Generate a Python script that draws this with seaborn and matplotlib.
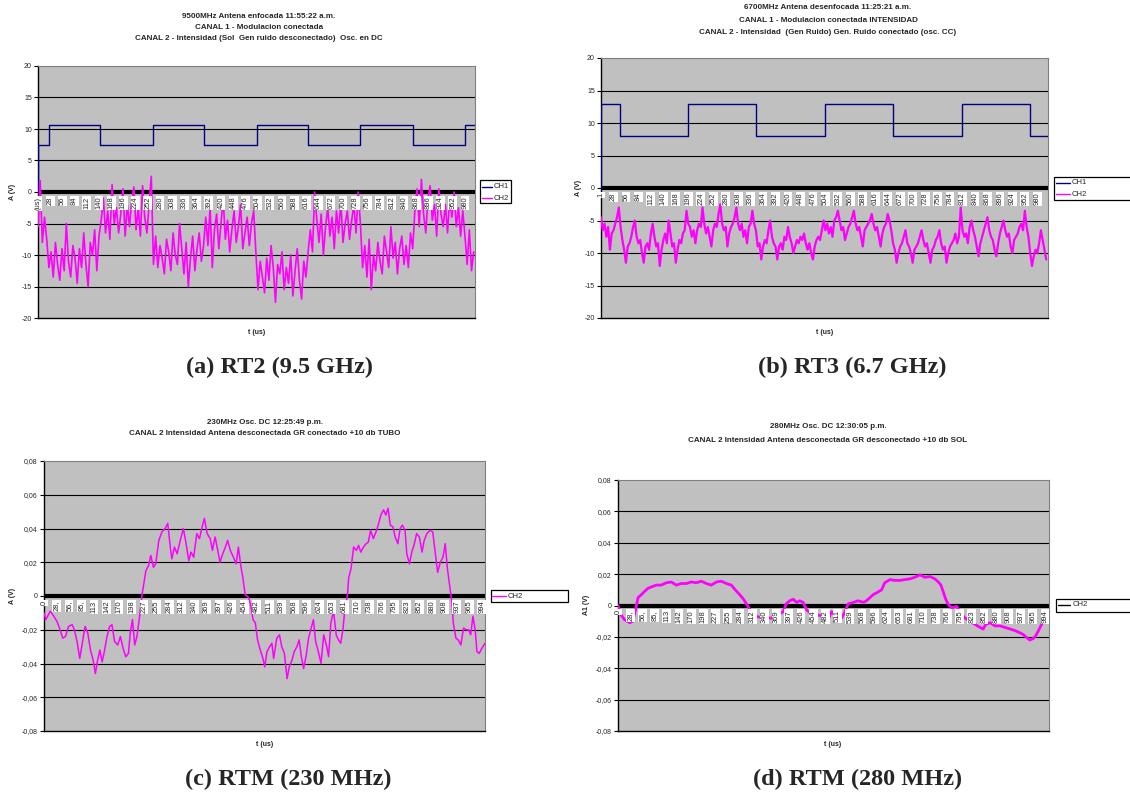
import numpy as np
import matplotlib
matplotlib.use("Agg")
import matplotlib.pyplot as plt
import seaborn as sns
from matplotlib.patches import Rectangle
from matplotlib.lines import Line2D

sns.set_style("white")
plt.rcParams['font.family'] = ['Liberation Sans', 'DejaVu Sans']

W, H = 1130, 793
NAVY = '#000080'
MAGENTA = '#ff00ff'

# ------------------------------
# Datos
# ------------------------------
# (a) 9500 MHz: CH1 escalones (t, nivel), CH2 cada 5 us
ch1_a_t = [0, 1, 25, 143, 263, 382, 502, 620, 740, 860, 979, 1003]
ch1_a_v = [0, 7.5, 10.6, 7.5, 10.6, 7.5, 10.6, 7.5, 10.6, 7.5, 10.6, 10.6]
ch2_a_v = [
    -5.5, 1.8, -8.0, -4.0, -7.5,
    -12.0, -9.5, -13.5, -8.0, -11.5, -14.0, -9.0, -12.5, -5.0, -11.0, -13.5, -8.5,
    -10.5, -14.5, -9.0, -12.0, -6.5, -11.5, -15.0, -8.0, -10.0, -6.0, -12.5, -7.0,
    -4.5, -1.0, -6.5, -3.0, -7.5, 1.2, -5.0, -2.5, -6.5, -3.5, 0.5, -7.0,
    -2.0, -5.5, -1.5, 0.8, -6.0, -2.5, -7.0, 1.0, -4.0, -6.5, -2.0, 2.5,
    -11.5, -7.0, -12.0, -8.5, -10.5, -13.0, -7.5, -9.5, -12.5, -6.5, -10.0, -11.5,
    -5.0, -9.0, -13.0, -8.0, -15.0, -10.5, -7.0, -12.5, -9.0, -6.5, -11.0, -8.5,
    -4.0, -8.5, -2.5, -12.0, -6.0, -3.5, -9.0, -5.0, -1.0, -7.5, -4.5, -9.5,
    -6.0, -3.0, -8.0, -5.5, -2.0, -9.0, -6.5, -4.0, -8.5, -5.0, -3.0, -9.5,
    -15.5, -11.0, -13.5, -16.0, -10.5, -14.0, -8.5, -12.0, -17.5, -11.5, -13.0, -9.5,
    -15.5, -12.0, -14.5, -10.0, -16.5, -12.5, -9.0, -14.0, -17.0, -11.0, -13.5, -9.5,
    -6.0, -9.5, 0.0, -4.5, -8.0, -3.5, -10.0, -5.5, -2.5, -7.0, -4.0, -9.0,
    -3.0, -6.5, -1.5, -8.0, -5.0, -3.0, -7.5, -4.5, -2.0, -6.5, 0.0, -5.0,
    -12.0, -8.5, -13.5, -7.5, -15.5, -10.0, -12.5, -8.0, -11.0, -13.0, -7.0, -9.5,
    -12.0, -5.5, -10.5, -8.0, -13.0, -9.0, -7.0, -11.5, -8.5, -12.0, -6.5, -9.0,
    -3.0, 0.5, -5.5, 2.0, -3.5, -6.5, -1.0, 1.0, -4.5, -2.0, -7.0, 0.5,
    -3.5, -5.5, -2.0, -6.5, -1.0, -4.0, 0.0, -5.5, -2.5, -7.0, -3.0,
    -7.0, -11.5, -6.0, -12.5, -9.5,
]

# (b) 6700 MHz: CH1 escalones, CH2 cada 4 us
ch1_b_t = [0, 1, 43, 196, 349, 502, 655, 810, 963, 1004]
ch1_b_v = [0, 12.9, 8.0, 12.9, 8.0, 12.9, 8.0, 12.9, 8.0, 8.0]
ch2_b_v = [
    -4.5, -6.5, -5.5, -7.5, -6, -9.5, -7, -6.5, -5.5, -4.5,
    -3, -6, -8, -9.5, -11.5, -9, -8.5, -7.5, -6, -5,
    -7.5, -8.5, -8, -10, -11.5, -9, -8.5, -9.5, -7, -5.5,
    -7.5, -9, -8.5, -12, -9.5, -8, -7, -8.5, -5, -7,
    -9, -8.5, -11.5, -9.5, -8, -8.5, -7, -6.5, -3.5, -5.5,
    -6, -7.5, -6.5, -8.5, -6.5, -5.5, -6, -3, -5.5, -7,
    -6, -7.5, -9, -6.5, -5.5, -6, -4, -2.5, -5.5, -6.5,
    -6, -9, -7, -6, -5.5, -4.5, -3, -5.5, -6.5, -5.5,
    -7.5, -6.5, -8.5, -6, -5.5, -3.5, -5.5, -6.5, -9, -8.5,
    -11, -9, -8, -8.5, -6.5, -5, -7.5, -8.5, -9, -11,
    -9, -8.5, -9.5, -7.5, -8, -6, -7.5, -8.5, -10, -9,
    -8, -8.5, -7.5, -8, -7, -8.5, -9.5, -8.5, -10, -11,
    -9, -8, -7.5, -8, -6.5, -5, -6.5, -5.5, -7, -6,
    -7.5, -5, -4.5, -3.5, -5, -6.5, -6, -8, -7, -6,
    -5.5, -4.5, -3.5, -5.5, -6.5, -6, -7.5, -9, -6.5, -6,
    -5.5, -5, -4, -5.5, -6.5, -6, -7.5, -9, -7, -6,
    -5.5, -4, -5, -6.5, -8.5, -9.5, -11.5, -10, -9, -8.5,
    -7.5, -6.5, -8.5, -9, -10, -11.5, -9.5, -9, -8.5, -7.5,
    -6.5, -8, -9, -8.5, -10, -11.5, -9.5, -9, -8, -7.5,
    -6.5, -8.5, -9.5, -9, -11.5, -10, -9, -8.5, -8, -7,
    -8.5, -7.5, -3, -6.5, -7.5, -7, -8.5, -6, -5, -6.5,
    -7.5, -9, -10.5, -8.5, -7.5, -6.5, -5.5, -4.5, -6.5, -7.5,
    -8, -9.5, -10.5, -8.5, -7, -6, -5, -6.5, -7.5, -7,
    -9, -10, -8, -7.5, -7, -6, -5.5, -6.5, -3.5, -6,
    -7.5, -10, -12, -10.5, -9.5, -10, -8.5, -6.5, -8, -9.5,
    -11,
]

# (c) 230 MHz CH2 (t, V)
ch2_c = [
    (0, -0.010), (4, -0.014), (14, -0.009), (22, -0.012), (29, -0.015), (36, -0.020),
    (42, -0.025), (48, -0.024), (55, -0.018), (63, -0.017), (68, -0.020), (74, -0.027),
    (80, -0.037), (85, -0.029), (92, -0.018), (98, -0.022), (104, -0.032), (110, -0.038),
    (115, -0.046), (120, -0.038), (125, -0.032), (130, -0.039), (135, -0.033), (141, -0.024),
    (147, -0.018), (152, -0.017), (158, -0.027), (165, -0.029), (171, -0.024), (177, -0.031),
    (183, -0.036), (189, -0.034), (193, -0.022), (198, -0.014), (203, -0.029), (208, -0.024),
    (214, -0.012), (219, 0.000), (223, 0.0065), (228, 0.015), (234, 0.018), (239, 0.024),
    (245, 0.017), (250, 0.019), (257, 0.033), (264, 0.038), (271, 0.040), (277, 0.043),
    (281, 0.033), (286, 0.022), (292, 0.029), (298, 0.025), (305, 0.033), (312, 0.040),
    (318, 0.031), (324, 0.021), (329, 0.026), (335, 0.023), (342, 0.037), (348, 0.034),
    (353, 0.040), (359, 0.046), (365, 0.037), (372, 0.034), (377, 0.027), (383, 0.035),
    (389, 0.027), (394, 0.020), (400, 0.025), (406, 0.029), (411, 0.033), (417, 0.027),
    (424, 0.023), (430, 0.019), (435, 0.029), (441, 0.017), (445, 0.011), (450, 0.001),
    (454, 0.000), (458, -0.001), (463, -0.006), (468, -0.014), (473, -0.016), (478, -0.026),
    (484, -0.032), (490, -0.037), (494, -0.042), (499, -0.033), (505, -0.030), (510, -0.028),
    (514, -0.037), (521, -0.025), (527, -0.023), (532, -0.030), (538, -0.034), (544, -0.049),
    (549, -0.042), (555, -0.038), (560, -0.033), (566, -0.030), (571, -0.026), (576, -0.036),
    (581, -0.043), (587, -0.035), (592, -0.025), (597, -0.020), (603, -0.014), (608, -0.027),
    (614, -0.033), (620, -0.040), (626, -0.023), (632, -0.029), (637, -0.036), (642, -0.016),
    (648, -0.009), (654, -0.023), (659, -0.026), (664, -0.028), (669, -0.020), (674, -0.006),
    (679, 0.000), (682, 0.011), (687, 0.016), (693, 0.029), (699, 0.027), (704, 0.030),
    (709, 0.026), (715, 0.029), (721, 0.031), (726, 0.032), (731, 0.039), (737, 0.034),
    (743, 0.038), (748, 0.042), (754, 0.048), (760, 0.051), (765, 0.048), (770, 0.052),
    (775, 0.042), (781, 0.041), (786, 0.035), (792, 0.031), (797, 0.040), (802, 0.042),
    (808, 0.039), (812, 0.025), (818, 0.019), (823, 0.026), (828, 0.030), (834, 0.037),
    (840, 0.035), (846, 0.026), (851, 0.033), (857, 0.037), (864, 0.039), (870, 0.038),
    (876, 0.025), (881, 0.014), (887, 0.020), (893, 0.023), (898, 0.031), (903, 0.016),
    (908, 0.006), (911, 0.000), (913, -0.004), (916, -0.016), (922, -0.025), (927, -0.026),
    (933, -0.029), (939, -0.019), (945, -0.020), (950, -0.020), (955, -0.023), (960, -0.012),
    (965, -0.020), (969, -0.033), (974, -0.034), (980, -0.031), (987, -0.028),
]

# (d) 280 MHz CH2 (t, V)
ch2_d = [
    (0, 0.000), (7, -0.006), (15, -0.009), (27, -0.011), (34, -0.010), (40, -0.003),
    (46, 0.005), (54, 0.007), (61, 0.009), (69, 0.011), (78, 0.012), (88, 0.013),
    (99, 0.013), (111, 0.0145), (122, 0.015), (134, 0.013), (145, 0.014), (157, 0.014),
    (168, 0.015), (180, 0.0145), (191, 0.0155), (203, 0.014), (214, 0.013), (226, 0.015),
    (237, 0.0155), (249, 0.014), (260, 0.013), (269, 0.010), (279, 0.007), (288, 0.004),
    (297, 0.000), (306, -0.004), (317, -0.007), (337, -0.008), (352, -0.008), (367, -0.006),
    (379, -0.004), (386, 0.001), (394, 0.003), (402, 0.004), (410, 0.002), (417, 0.003),
    (425, 0.002), (433, -0.003), (444, -0.005), (459, -0.006), (471, -0.007), (482, -0.009),
    (490, -0.004), (501, -0.007), (513, -0.008), (521, -0.004), (528, 0.001), (540, 0.002),
    (551, 0.003), (563, 0.002), (570, 0.003), (578, 0.005), (586, 0.007), (593, 0.008),
    (605, 0.010), (612, 0.0145), (624, 0.0165), (635, 0.016), (647, 0.016), (658, 0.0165),
    (670, 0.017), (681, 0.018), (693, 0.0195), (704, 0.018), (716, 0.0185), (727, 0.017),
    (735, 0.015), (741, 0.013), (746, 0.009), (752, 0.004), (758, 0.0006), (766, -0.0015),
    (777, -0.0005), (785, -0.004), (796, -0.008), (808, -0.010), (819, -0.012), (831, -0.014),
    (838, -0.015), (844, -0.012), (854, -0.011), (865, -0.013), (877, -0.013), (888, -0.014),
    (900, -0.015), (911, -0.016), (923, -0.0175), (930, -0.0185), (938, -0.0205), (945, -0.022),
    (953, -0.021), (958, -0.0195), (964, -0.0165), (972, -0.012), (980, -0.008), (987, -0.005),
]

# Etiquetas del eje de categorias (cada 28 muestras)
xlab_ab = ["28", "56", "84", "112", "140", "168", "196", "224", "252", "280", "308",
           "336", "364", "392", "420", "448", "476", "504", "532", "560", "588", "616",
           "644", "672", "700", "728", "756", "784", "812", "840", "868", "896", "924",
           "952", "980"]
xlab_cd = ["28,", "56,", "85,", "113", "142", "170", "198", "227", "255", "284", "312",
           "340", "369", "397", "426", "454", "482", "511", "539", "568", "596", "624",
           "653", "681", "710", "738", "766", "795", "823", "852", "880", "908", "937",
           "965", "994"]
yt_ab = [-20, -15, -10, -5, 0, 5, 10, 15, 20]
yt_cd = [-0.08, -0.06, -0.04, -0.02, 0, 0.02, 0.04, 0.06, 0.08]
ylab_cd = ["-0,08", "-0,06", "-0,04", "-0,02", "0", "0,02", "0,04", "0,06", "0,08"]

titles = {
    'a': ["9500MHz Antena enfocada 11:55:22 a.m.",
          "CANAL 1 - Modulacion conectada",
          "CANAL 2 - Intensidad (Sol  Gen ruido desconectado)  Osc. en DC"],
    'b': ["6700MHz Antena desenfocada 11:25:21 a.m.",
          "CANAL 1 - Modulacion conectada INTENSIDAD",
          "CANAL 2 - Intensidad  (Gen Ruido) Gen. Ruido conectado (osc. CC)"],
    'c': ["230MHz Osc. DC 12:25:49 p.m.",
          "CANAL 2 Intensidad Antena desconectada GR conectado +10 db TUBO"],
    'd': ["280MHz Osc. DC 12:30:05 p.m.",
          "CANAL 2 Intensidad Antena desconectada GR desconectado +10 db SOL"],
}
captions = {'a': "(a) RT2 (9.5 GHz)", 'b': "(b) RT3 (6.7 GHz)",
            'c': "(c) RTM (230 MHz)", 'd': "(d) RTM (280 MHz)"}

# ------------------------------
# Figura
# ------------------------------
fig = plt.figure(figsize=(W / 100, H / 100), dpi=100)


def axes_px(l, t, r, b):
    return fig.add_axes([l / W, 1 - b / H, (r - l) / W, (b - t) / H])


def text_px(x, y, s, **kw):
    fig.text(x / W, 1 - y / H, s, **kw)


def style_axes(ax, xmax, yticks, ylabels, xlabels):
    ax.set_facecolor('#c0c0c0')
    ax.set_xlim(0, xmax)
    ax.set_ylim(yticks[0], yticks[-1])
    ax.set_yticks(yticks)
    ax.set_yticklabels(ylabels)
    ax.set_xticks([])
    ax.set_xlabel("")
    ax.set_ylabel("")
    ax.tick_params(axis='y', direction='out', length=3, width=0.8, labelsize=5,
                   pad=1.5, color='black', left=True)
    for y in yticks[1:-1]:
        if y != 0:
            ax.axhline(y, color='black', lw=0.8, zorder=1)
    ax.axhline(0, color='black', lw=3, zorder=2)
    for s in ['left', 'bottom']:
        ax.spines[s].set_color('black')
        ax.spines[s].set_linewidth(1.0)
    for s in ['top', 'right']:
        ax.spines[s].set_color('#808080')
        ax.spines[s].set_linewidth(0.8)
    pos = np.arange(len(xlabels)) * 28
    for x, lab in zip(pos, xlabels):
        ax.annotate(lab, xy=(x, 0), xycoords='data', xytext=(0, -3.4),
                    textcoords='offset points', rotation=90, ha='center', va='top',
                    fontsize=5.4, zorder=6, annotation_clip=False,
                    bbox=dict(boxstyle='square,pad=0.12', fc='white', ec='none'))


def legend_px(x0, y0, x1, y1, entries):
    fig.add_artist(Rectangle((x0 / W, 1 - y1 / H), (x1 - x0) / W, (y1 - y0) / H,
                             transform=fig.transFigure, fc='white', ec='black', lw=0.9))
    for lx0, lx1, ly, tx, lab, col in entries:
        fig.add_artist(Line2D([lx0 / W, lx1 / W], [1 - ly / H, 1 - ly / H],
                              transform=fig.transFigure, color=col, lw=1.0))
        text_px(tx, ly, lab, fontsize=5.5, ha='left', va='center')


# --- (a) ---
ax_a = axes_px(38, 66, 475, 318)
sns.lineplot(x=ch1_a_t, y=ch1_a_v, ax=ax_a, color=NAVY, lw=1.0, estimator=None,
             sort=False, drawstyle='steps-post', zorder=3)
sns.lineplot(x=np.arange(len(ch2_a_v)) * 5, y=ch2_a_v, ax=ax_a, color=MAGENTA, lw=1.2,
             estimator=None, sort=False, zorder=4)
style_axes(ax_a, 1003, yt_ab, [str(v) for v in yt_ab], ["(us)"] + xlab_ab)
legend_px(480, 180, 511, 203, [(482, 492, 187, 494, "CH1", NAVY),
                                (482, 492, 198, 494, "CH2", MAGENTA)])

# --- (b) ---
ax_b = axes_px(601, 58, 1048, 318)
sns.lineplot(x=ch1_b_t, y=ch1_b_v, ax=ax_b, color=NAVY, lw=1.0, estimator=None,
             sort=False, drawstyle='steps-post', zorder=3)
sns.lineplot(x=np.arange(len(ch2_b_v)) * 4, y=ch2_b_v, ax=ax_b, color=MAGENTA, lw=1.6,
             estimator=None, sort=False, zorder=4)
style_axes(ax_b, 1004, yt_ab, [str(v) for v in yt_ab], ["1"] + xlab_ab)
legend_px(1054, 177, 1140, 200, [(1056, 1070, 183, 1072, "CH1", NAVY),
                                  (1056, 1070, 194, 1072, "CH2", MAGENTA)])

# --- (c) ---
ax_c = axes_px(44, 461, 485, 731)
tc, vc = zip(*ch2_c)
sns.lineplot(x=list(tc), y=list(vc), ax=ax_c, color=MAGENTA, lw=1.1, estimator=None,
             sort=False, zorder=4)
style_axes(ax_c, 987, yt_cd, ylab_cd, ["0"] + xlab_cd)
legend_px(491, 590, 568, 602, [(492, 506, 596, 508, "CH2", MAGENTA)])

# --- (d) ---
ax_d = axes_px(618, 480, 1049, 731)
td, vd = zip(*ch2_d)
sns.lineplot(x=list(td), y=list(vd), ax=ax_d, color=MAGENTA, lw=2.0, estimator=None,
             sort=False, zorder=4)
style_axes(ax_d, 989, yt_cd, ylab_cd, ["0"] + xlab_cd)
legend_px(1056, 599, 1140, 612, [(1058, 1070, 605, 1073, "CH2", '#000000')])

# --- Titulos, ejes y leyendas de texto ---
for key, cx, ys in [('a', 259, [16, 27.5, 39]), ('b', 828, [7.5, 20, 32.5]),
                    ('c', 265, [422, 433.5]), ('d', 828, [427, 440])]:
    for line, y in zip(titles[key], ys):
        text_px(cx, y, line, fontsize=5.8, fontweight='bold', ha='center', va='center')

for x, y in [(257, 332), (825, 332), (265, 745), (833, 744)]:
    text_px(x, y, "t (us)", fontsize=5, fontweight='bold', ha='center', va='center')

for x, y, lab in [(13, 192, "A (V)"), (578, 188, "A (V)"), (13, 596, "A (V)"),
                  (587, 605, "A1 (V)")]:
    text_px(x, y, lab, fontsize=5, fontweight='bold', ha='center', va='center',
            rotation=90)

for key, x, y in [('a', 279, 367), ('b', 852, 367), ('c', 288, 779), ('d', 858, 779)]:
    text_px(x, y, captions[key], fontsize=17.5, fontweight='bold', ha='center',
            va='center', family=['Liberation Serif', 'DejaVu Serif'])

fig.savefig("out.png", dpi=100)
plt.close(fig)
